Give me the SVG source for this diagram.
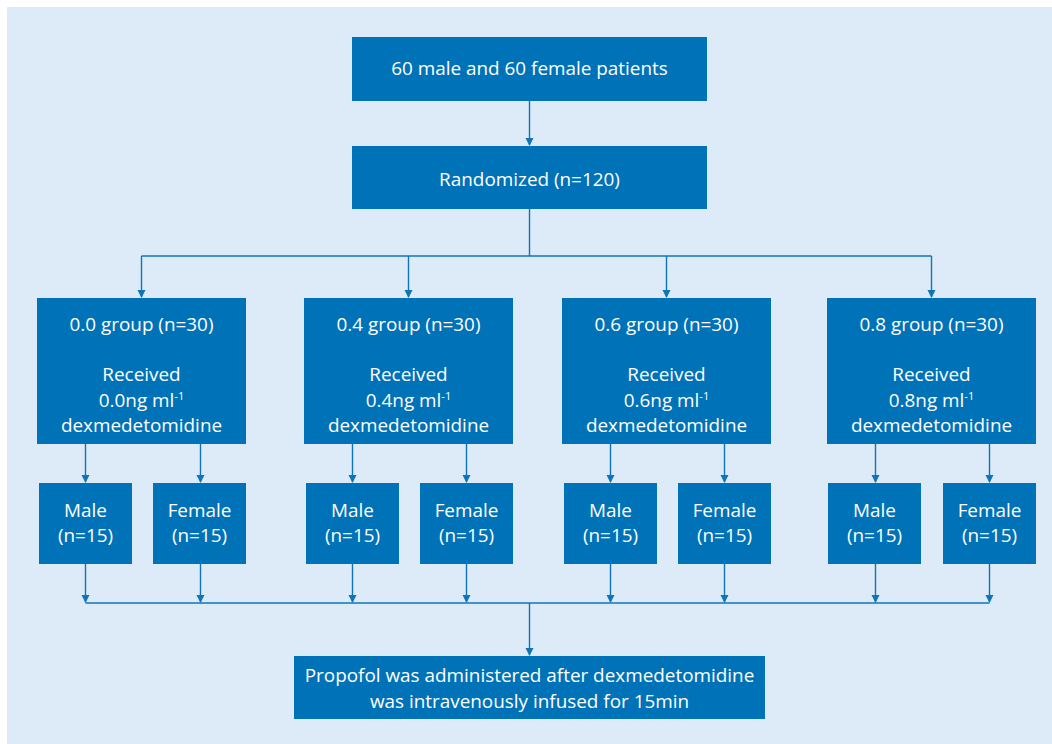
<svg xmlns="http://www.w3.org/2000/svg" width="1052" height="744" viewBox="0 0 1052 744">
<style>
.bx{fill:#0072b7}
.t{font-family:"Open Sans","Noto Sans",sans-serif;font-size:18.9px;fill:#ffffff;text-anchor:middle}
.sup{font-size:11px}
.ln{stroke:#0f74b8;stroke-width:1.4;fill:none}
.ar{stroke:#0f74b8;stroke-width:1.4;fill:none;marker-end:url(#ah)}
</style>
<defs>
<marker id="ah" markerWidth="8" markerHeight="10" refX="7" refY="4" orient="auto" markerUnits="userSpaceOnUse" viewBox="0 0 8 8">
<path d="M0,0 L8,4 L0,8 Z" fill="#0f74b8"/>
</marker>
</defs>
<rect x="0" y="0" width="1052" height="744" fill="#ffffff"/>
<rect x="7" y="7" width="1045" height="737" fill="#ddebf8"/>

<g id="connectors">
<path class="ar" d="M529.5,101 V145"/>
<path class="ln" d="M529.5,209 V256"/>
<path class="ln" d="M141.5,256 H931.5"/>
<path class="ar" d="M141.5,256 V297"/>
<path class="ar" d="M408.5,256 V297"/>
<path class="ar" d="M666.5,256 V297"/>
<path class="ar" d="M931.5,256 V297"/>
<path class="ar" d="M85.5,444 V482"/>
<path class="ar" d="M200.5,444 V482"/>
<path class="ar" d="M352.5,444 V482"/>
<path class="ar" d="M466.5,444 V482"/>
<path class="ar" d="M610.5,444 V482"/>
<path class="ar" d="M724.5,444 V482"/>
<path class="ar" d="M875.5,444 V482"/>
<path class="ar" d="M989.5,444 V482"/>
<path class="ar" d="M85.5,564 V602"/>
<path class="ar" d="M200.5,564 V602"/>
<path class="ar" d="M352.5,564 V602"/>
<path class="ar" d="M466.5,564 V602"/>
<path class="ar" d="M610.5,564 V602"/>
<path class="ar" d="M724.5,564 V602"/>
<path class="ar" d="M875.5,564 V602"/>
<path class="ar" d="M989.5,564 V602"/>
<path class="ln" d="M85.5,603 H989.5"/>
<path class="ar" d="M529.5,603 V655"/>
</g>

<g id="n-top">
<rect class="bx" x="352" y="37" width="355" height="64"/>
<text class="t" x="529.5" y="74.5">60 male and 60 female patients</text>
</g>
<g id="n-rand">
<rect class="bx" x="352" y="146" width="355" height="63"/>
<text class="t" x="529.5" y="185.5">Randomized (n=120)</text>
</g>

<g id="n-g00">
<rect class="bx" x="37" y="298" width="209" height="146"/>
<text class="t" x="141.5" y="331">0.0 group (n=30)</text>
<text class="t" x="141.5" y="381">Received</text>
<text class="t" x="141.5" y="407">0.0ng ml<tspan class="sup" dy="-7">-1</tspan></text>
<text class="t" x="141.5" y="432">dexmedetomidine</text>
</g>
<g id="n-g04">
<rect class="bx" x="304" y="298" width="209" height="146"/>
<text class="t" x="408.5" y="331">0.4 group (n=30)</text>
<text class="t" x="408.5" y="381">Received</text>
<text class="t" x="408.5" y="407">0.4ng ml<tspan class="sup" dy="-7">-1</tspan></text>
<text class="t" x="408.5" y="432">dexmedetomidine</text>
</g>
<g id="n-g06">
<rect class="bx" x="562" y="298" width="209" height="146"/>
<text class="t" x="666.5" y="331">0.6 group (n=30)</text>
<text class="t" x="666.5" y="381">Received</text>
<text class="t" x="666.5" y="407">0.6ng ml<tspan class="sup" dy="-7">-1</tspan></text>
<text class="t" x="666.5" y="432">dexmedetomidine</text>
</g>
<g id="n-g08">
<rect class="bx" x="827" y="298" width="209" height="146"/>
<text class="t" x="931.5" y="331">0.8 group (n=30)</text>
<text class="t" x="931.5" y="381">Received</text>
<text class="t" x="931.5" y="407">0.8ng ml<tspan class="sup" dy="-7">-1</tspan></text>
<text class="t" x="931.5" y="432">dexmedetomidine</text>
</g>

<g id="n-m00"><rect class="bx" x="39" y="483" width="93" height="81"/><text class="t" x="85.5" y="517">Male</text><text class="t" x="85.5" y="542">(n=15)</text></g>
<g id="n-f00"><rect class="bx" x="153" y="483" width="93" height="81"/><text class="t" x="199.5" y="517">Female</text><text class="t" x="199.5" y="542">(n=15)</text></g>
<g id="n-m04"><rect class="bx" x="306" y="483" width="93" height="81"/><text class="t" x="352.5" y="517">Male</text><text class="t" x="352.5" y="542">(n=15)</text></g>
<g id="n-f04"><rect class="bx" x="420" y="483" width="93" height="81"/><text class="t" x="466.5" y="517">Female</text><text class="t" x="466.5" y="542">(n=15)</text></g>
<g id="n-m06"><rect class="bx" x="564" y="483" width="93" height="81"/><text class="t" x="610.5" y="517">Male</text><text class="t" x="610.5" y="542">(n=15)</text></g>
<g id="n-f06"><rect class="bx" x="678" y="483" width="93" height="81"/><text class="t" x="724.5" y="517">Female</text><text class="t" x="724.5" y="542">(n=15)</text></g>
<g id="n-m08"><rect class="bx" x="828" y="483" width="93" height="81"/><text class="t" x="874.5" y="517">Male</text><text class="t" x="874.5" y="542">(n=15)</text></g>
<g id="n-f08"><rect class="bx" x="943" y="483" width="93" height="81"/><text class="t" x="989.5" y="517">Female</text><text class="t" x="989.5" y="542">(n=15)</text></g>

<g id="n-final">
<rect class="bx" x="294" y="656" width="471" height="63"/>
<text class="t" x="529.5" y="682">Propofol was administered after dexmedetomidine</text>
<text class="t" x="529.5" y="708">was intravenously infused for 15min</text>
</g>
</svg>
